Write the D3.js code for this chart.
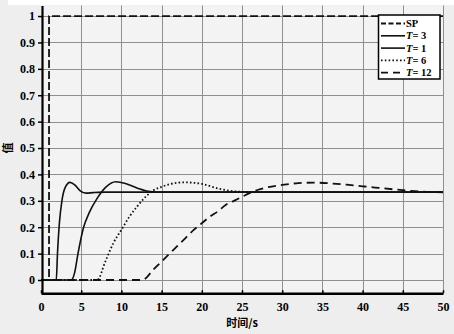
<!DOCTYPE html>
<html>
<head>
<meta charset="utf-8">
<script src="https://cdn.jsdelivr.net/npm/d3@7"></script>
<style>
  html, body { margin: 0; padding: 0; background: #eeeeee; }
  svg { display: block; }
</style>
</head>
<body>
<svg id="chart" width="454" height="334"></svg>
<script>
// Step responses: time samples (s) and output values per series
const spT  = [0, 1, 1, 50];
const spV  = [0, 0, 1, 1];

const t3T = [0, 1.9, 2.05, 2.3, 2.6, 3.0, 3.6, 4.2, 4.8, 5.6, 6.5, 8, 50];
const t3V = [0, 0, 0.1, 0.22, 0.3, 0.35, 0.37, 0.36, 0.34, 0.329, 0.331, 0.333, 0.333];

const t1T = [0, 3.75, 4.2, 4.6, 5.3, 6.0, 7.0, 8.0, 9.3, 10.5, 12, 13.6, 15, 50];
const t1V = [0, 0, 0.03, 0.1, 0.2, 0.255, 0.31, 0.35, 0.372, 0.366, 0.348, 0.335, 0.333, 0.333];

const t6T = [0, 7, 8, 9, 10, 11, 12, 13, 14, 15, 16, 17.8, 20, 22, 23.5, 25, 27, 50];
const t6V = [0, 0, 0.07, 0.14, 0.19, 0.24, 0.28, 0.315, 0.34, 0.353, 0.363, 0.37, 0.364, 0.347, 0.338, 0.334, 0.333, 0.333];

const t12T = [0, 12.6, 14, 15, 16, 17, 18, 19, 20, 21, 22, 23, 24, 25, 26, 27, 28, 30, 32, 34, 36, 38, 40, 42, 44, 46, 48, 50];
const t12V = [0, 0, 0.04, 0.07, 0.10, 0.13, 0.16, 0.19, 0.215, 0.24, 0.26, 0.285, 0.30, 0.315, 0.33, 0.342, 0.35, 0.36, 0.367, 0.369, 0.366, 0.361, 0.355, 0.349, 0.343, 0.338, 0.334, 0.332];

const xTicks = [0, 5, 10, 15, 20, 25, 30, 35, 40, 45, 50];
const yTicks = [0, 0.1, 0.2, 0.3, 0.4, 0.5, 0.6, 0.7, 0.8, 0.9, 1];
const legendNames = ["SP", "3", "1", "6", "12"];

const svg = d3.select("#chart");
const W = 454, H = 334;
const pLeft = 41, pRight = 443, pTop = 5.5, pBottom = 293.2;

const x = d3.scaleLinear().domain([0, 50]).range([pLeft, pRight]);
const y = d3.scaleLinear().domain([-0.05, 1.04]).range([pBottom, pTop]);

svg.append("rect").attr("width", W).attr("height", H).attr("fill", "#eeeeee");
svg.append("rect").attr("x", 8).attr("y", 0).attr("width", W - 8).attr("height", 5).attr("fill", "#ffffff");
svg.append("rect").attr("x", pLeft).attr("y", pTop)
  .attr("width", pRight - pLeft).attr("height", pBottom - pTop).attr("fill", "#f3f3f3");

// grid
const grid = svg.append("g").attr("stroke", "#8f8f8f").attr("stroke-width", 1);
grid.selectAll("line.v").data(xTicks.slice(1)).join("line")
  .attr("x1", d => Math.round(x(d)) + 0.5).attr("x2", d => Math.round(x(d)) + 0.5)
  .attr("y1", pTop).attr("y2", pBottom);
grid.selectAll("line.h").data(yTicks).join("line")
  .attr("x1", pLeft).attr("x2", pRight)
  .attr("y1", d => Math.round(y(d)) + 0.5).attr("y2", d => Math.round(y(d)) + 0.5);

// series
const series = [
  { t: spT, v: spV, dash: "8,3", width: 1.8, curve: d3.curveLinear },
  { t: t3T, v: t3V, dash: null, width: 1.6, curve: d3.curveMonotoneX },
  { t: t1T, v: t1V, dash: null, width: 1.6, curve: d3.curveMonotoneX },
  { t: t6T, v: t6V, dash: "1.6,2.2", width: 1.8, curve: d3.curveMonotoneX },
  { t: t12T, v: t12V, dash: "8,5", width: 1.8, curve: d3.curveMonotoneX }
];

const plot = svg.append("g");
series.forEach(s => {
  const pts = s.t.map((tt, i) => [tt, s.v[i]]);
  const line = d3.line().x(d => x(d[0])).y(d => y(d[1])).curve(s.curve);
  plot.append("path").attr("d", line(pts))
    .attr("fill", "none").attr("stroke", "#111")
    .attr("stroke-width", s.width)
    .attr("stroke-dasharray", s.dash);
});

// axes
const font = "'Liberation Serif', 'Times New Roman', serif";
const xAxis = d3.axisBottom(x).tickValues(xTicks).tickSizeInner(-3).tickSizeOuter(0).tickPadding(9);
const gx = svg.append("g").attr("transform", `translate(0,${pBottom})`).call(xAxis);
gx.select(".domain").attr("stroke", "#000").attr("stroke-width", 2.5);
gx.selectAll(".tick line").attr("stroke", "#000").attr("stroke-width", 1.5);
gx.selectAll(".tick text").attr("font-family", font).attr("font-weight", "bold")
  .attr("font-size", 12).attr("fill", "#000");

const yAxis = d3.axisLeft(y).tickValues(yTicks).tickFormat(d3.format("~g"))
  .tickSizeInner(4).tickSizeOuter(0).tickPadding(3);
const gy = svg.append("g").attr("transform", `translate(${pLeft + 1},0)`).call(yAxis);
gy.select(".domain").attr("stroke", "#000").attr("stroke-width", 2.2);
gy.selectAll(".tick line").attr("stroke", "#000").attr("stroke-width", 1.5);
gy.selectAll(".tick text").attr("font-family", font).attr("font-weight", "bold")
  .attr("font-size", 12).attr("fill", "#000");

// axis titles
const cjk = "'Noto Sans CJK SC', sans-serif";
svg.append("text").attr("x", (pLeft + pRight) / 2).attr("y", 327)
  .attr("text-anchor", "middle").attr("font-family", cjk).attr("font-weight", "bold")
  .attr("font-size", 11).attr("fill", "#000").text("时间/s");
svg.append("text").attr("transform", `translate(12,${y(0.5)}) rotate(-90)`)
  .attr("text-anchor", "middle").attr("font-family", cjk).attr("font-weight", "bold")
  .attr("font-size", 11).attr("fill", "#000").text("值");

// legend
const lg = svg.append("g");
lg.append("rect").attr("x", 378.5).attr("y", 15).attr("width", 61.5).attr("height", 64)
  .attr("fill", "#ffffff").attr("stroke", "#000").attr("stroke-width", 1.5);
series.forEach((s, i) => {
  const yy = 23.5 + i * 12.3;
  lg.append("line").attr("x1", 381).attr("x2", 405).attr("y1", yy).attr("y2", yy)
    .attr("stroke", "#111").attr("stroke-width", s.width)
    .attr("stroke-dasharray", i === 0 ? "5,2.5" : (i === 4 ? "7,5" : s.dash));
  const tx = lg.append("text").attr("x", 406).attr("y", yy + 3.6)
    .attr("font-family", font).attr("font-weight", "bold").attr("font-size", 10.5).attr("fill", "#000");
  if (i === 0) {
    tx.text(legendNames[i]);
  } else {
    tx.append("tspan").attr("font-style", "italic").text("T");
    tx.append("tspan").text("= " + legendNames[i]);
  }
});
</script>
</body>
</html>
